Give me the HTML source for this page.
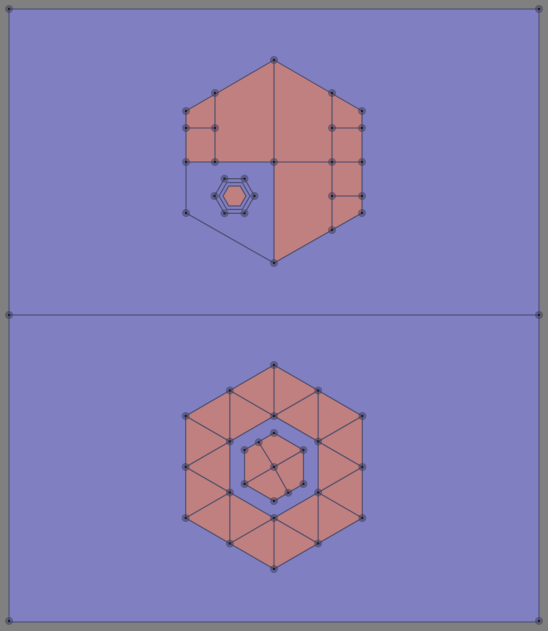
<!DOCTYPE html>
<html><head><meta charset="utf-8">
<style>
html,body{margin:0;padding:0;background:#808080;}
svg{display:block;}
</style></head>
<body>
<svg id="chart" width="548" height="631" viewBox="0 0 548 631" xmlns="http://www.w3.org/2000/svg">
<rect x="0" y="0" width="548" height="631" fill="#808080"/>
<rect x="9" y="9" width="530" height="613" fill="#7f7fc1" stroke="#4a4a78" stroke-width="1"/>
<g id="fills"></g>
<g id="edges" fill="none" stroke="#4a4a6a" stroke-opacity="0.8" stroke-width="1.3"></g>
<g id="nodes"></g>
</svg>
<script>
// Top mesh: red polygons
const topRed = [[186,111],[215,93],[274,60],[332,93],[362,111],[362,213],[332,230],[274,263],[274,162],[186,162]];
const topOutline = [[274,60],[362,111],[362,213],[274,263],[186,213],[186,111]];
const topSegments = [[[215,93],[215,162]],[[274,60],[274,263]],[[332,93],[332,230]],[[186,128],[215,128]],[[186,162],[362,162]],[[332,128],[362,128]],[[332,196],[362,196]]];
const topNodes = [[274,60],[215,93],[332,93],[186,111],[362,111],[186,128],[215,128],[332,128],[362,128],[186,162],[215,162],[274,162],[332,162],[362,162],[332,196],[362,196],[186,213],[362,213],[332,230],[274,263]];
const holeCenter = [234.5,196];
const holeRadii = [20,15.5,11.5];
// Bottom mesh
const botCenter = [274,467];
const ringRadii = [102,51,34];
const innerExtra = [[258.7,442.3],[288.3,492.7]];
const frameNodes = [[9,9],[539,9],[9,315],[539,315],[9,621],[539,621]];

const NS="http://www.w3.org/2000/svg";
const fills=document.getElementById('fills'),edges=document.getElementById('edges'),nodes=document.getElementById('nodes');
function poly(g,pts,attrs,name){const p=document.createElementNS(NS,'polygon');p.setAttribute('points',pts.map(q=>q.join(',')).join(' '));for(const k in attrs)p.setAttribute(k,attrs[k]);


g.appendChild(p);return p;}
function line(a,b,name){const l=document.createElementNS(NS,'line');l.setAttribute('x1',a[0]);l.setAttribute('y1',a[1]);l.setAttribute('x2',b[0]);l.setAttribute('y2',b[1]);


edges.appendChild(l);}
function node(p){const c=document.createElementNS(NS,'circle');c.setAttribute('cx',p[0]);c.setAttribute('cy',p[1]);c.setAttribute('r',4);c.setAttribute('fill','#3a3a5a');c.setAttribute('fill-opacity','0.5');


nodes.appendChild(c);
const d=document.createElementNS(NS,'circle');d.setAttribute('cx',p[0]);d.setAttribute('cy',p[1]);d.setAttribute('r',1.2);d.setAttribute('fill','#222');


nodes.appendChild(d);}
function hexPts(c,r,start){const a=[];for(let i=0;i<6;i++){const t=(start+60*i)*Math.PI/180;a.push([c[0]+r*Math.cos(t),c[1]+r*Math.sin(t)]);}return a;}
const RED='#c08080';
line([9,315],[539,315],'domain-divider');
poly(fills,topRed,{fill:RED},'top-red-region');
poly(edges,topOutline,{},'top-outline');
topSegments.forEach(s=>line(s[0],s[1],'top-edge'));
topNodes.forEach(node);
const h0=hexPts(holeCenter,holeRadii[0],0),h1=hexPts(holeCenter,holeRadii[1],0),h2=hexPts(holeCenter,holeRadii[2],0);
poly(fills,h2,{fill:RED},'hole-red-core');
poly(edges,h0,{},'hole-outer');poly(edges,h1,{},'hole-middle');poly(edges,h2,{},'hole-inner');
h0.forEach(node);
const outer=hexPts(botCenter,ringRadii[0],-90),inner=hexPts(botCenter,ringRadii[1],-90),core=hexPts(botCenter,ringRadii[2],-90);
const mids=outer.map((p,i)=>{const q=outer[(i+1)%6];return[(p[0]+q[0])/2,(p[1]+q[1])/2];});
const ring=[];outer.forEach((p,i)=>{ring.push(p);ring.push(mids[i]);});
const g=document.createElementNS(NS,'path');
g.setAttribute('d','M'+outer.map(p=>p.join(',')).join('L')+'Z M'+inner.slice().reverse().map(p=>p.join(',')).join('L')+'Z');
g.setAttribute('fill',RED);g.setAttribute('fill-rule','evenodd');


fills.appendChild(g);
poly(fills,core,{fill:RED},'bottom-red-core');
poly(edges,outer,{},'bottom-outer');poly(edges,inner,{},'bottom-inner');poly(edges,core,{},'bottom-core');
inner.forEach((p,i)=>{line(p,outer[i],'ring-edge');line(p,mids[i],'ring-edge');line(p,mids[(i+5)%6],'ring-edge');});
[innerExtra[0],core[1],innerExtra[1],core[4]].forEach(p=>line(botCenter,p,'core-edge'));
ring.forEach(node);inner.forEach(node);core.forEach(node);innerExtra.forEach(node);node(botCenter);
frameNodes.forEach(node);
</script>
</body></html>
